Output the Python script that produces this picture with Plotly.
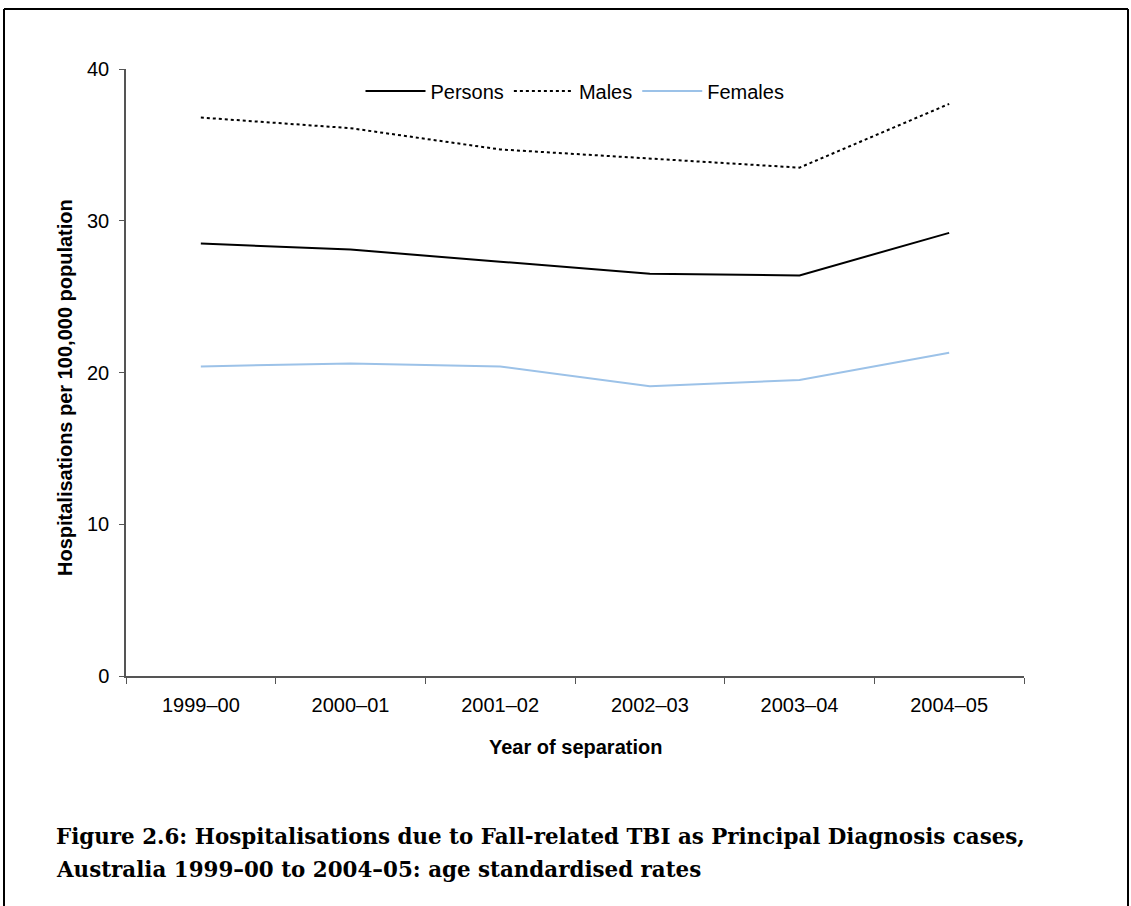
import plotly.graph_objects as go

years = ["1999–00", "2000–01", "2001–02", "2002–03", "2003–04", "2004–05"]
persons = [28.5, 28.1, 27.3, 26.5, 26.4, 29.2]
males = [36.8, 36.1, 34.7, 34.1, 33.5, 37.7]
females = [20.4, 20.6, 20.4, 19.1, 19.5, 21.3]

W, H = 1131, 906
L, R, T, B = 126, 1024, 69, 676
pw, ph = R - L, B - T

def px(x):
    return (x - L) / pw

def py(y):
    return (B - y) / ph

fig = go.Figure()
fig.add_trace(go.Scatter(x=years, y=persons, mode="lines", name="Persons",
                         line=dict(color="black", width=2)))
fig.add_trace(go.Scatter(x=years, y=males, mode="lines", name="Males",
                         line=dict(color="black", width=2, dash="dot")))
fig.add_trace(go.Scatter(x=years, y=females, mode="lines", name="Females",
                         line=dict(color="#9cc2e8", width=2)))

font = "Liberation Sans, Arial, sans-serif"
serif = "DejaVu Serif, Liberation Serif, serif"
fig.update_layout(
    width=W, height=H,
    margin=dict(l=L, r=W - R, t=T, b=H - B, pad=0),
    paper_bgcolor="white", plot_bgcolor="white",
    font=dict(family=font, size=20, color="black"),
    showlegend=True,
    legend=dict(orientation="h", x=0.5, xanchor="center", y=py(91), yanchor="middle",
                bgcolor="rgba(0,0,0,0)", font=dict(size=20), itemwidth=60,
                tracegroupgap=0),
    xaxis=dict(type="category", range=[-0.5, 5.5], tickson="boundaries",
               ticks="outside", ticklen=6, tickcolor="#555", showline=True,
               linecolor="#555", linewidth=1.5, showgrid=False, zeroline=False,
               tickfont=dict(size=20), ticklabelstandoff=10),
    yaxis=dict(range=[0, 40], tickvals=[0, 10, 20, 30, 40], ticks="outside",
               ticklen=5, tickcolor="#555", showline=True, linecolor="#555",
               linewidth=1.5, showgrid=False, zeroline=False,
               tickfont=dict(size=20), ticklabelstandoff=6),
    annotations=[
        dict(text="<b>Hospitalisations per 100,000 population</b>", xref="paper", yref="paper",
             x=px(65), y=py(388), textangle=-90, showarrow=False,
             xanchor="center", yanchor="middle", font=dict(size=20, family=font)),
        dict(text="<b>Year of separation</b>", xref="paper", yref="paper",
             x=px(575), y=py(747), showarrow=False, xanchor="center", yanchor="middle",
             font=dict(size=20, family=font)),
        dict(text="<b>Figure 2.6: Hospitalisations due to Fall-related TBI as Principal Diagnosis cases,</b>",
             xref="paper", yref="paper", x=px(54), y=py(836), showarrow=False,
             xanchor="left", yanchor="middle",
             font=dict(size=21.4, family=serif)),
        dict(text="<b>Australia 1999–00 to 2004–05: age standardised rates</b>",
             xref="paper", yref="paper", x=px(54), y=py(870), showarrow=False,
             xanchor="left", yanchor="middle",
             font=dict(size=21.4, family=serif)),
    ],
    shapes=[
        dict(type="line", xref="paper", yref="paper", x0=px(4), x1=px(1128), y0=py(9), y1=py(9),
             line=dict(color="black", width=2)),
        dict(type="line", xref="paper", yref="paper", x0=px(4), x1=px(4), y0=py(9), y1=py(906),
             line=dict(color="black", width=2)),
        dict(type="line", xref="paper", yref="paper", x0=px(1128), x1=px(1128), y0=py(9), y1=py(906),
             line=dict(color="black", width=2)),
    ],
)

fig.write_html("out.html")
